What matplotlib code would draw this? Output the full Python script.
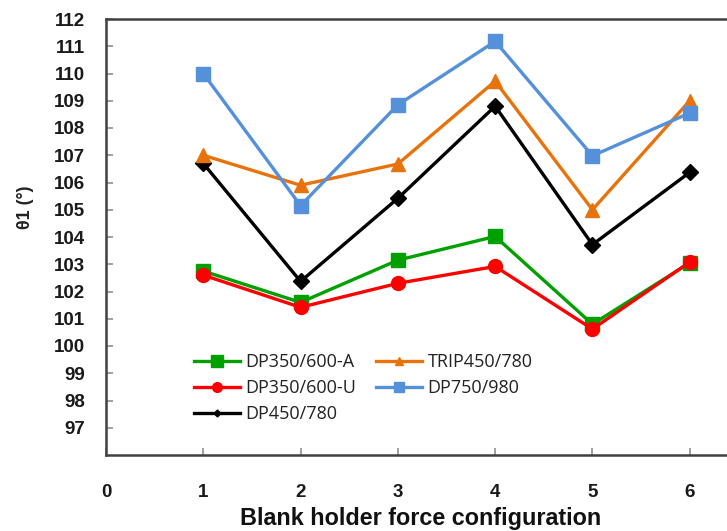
import matplotlib
matplotlib.use("Agg")
import matplotlib.pyplot as plt
from matplotlib.lines import Line2D

configs = [1, 2, 3, 4, 5, 6]
dp350_a = [102.75, 101.6, 103.15, 104.02, 100.8, 103.05]
dp350_u = [102.6, 101.42, 102.3, 102.92, 100.62, 103.08]
dp450 = [106.7, 102.37, 105.42, 108.8, 103.72, 106.37]
trip450 = [107.0, 105.9, 106.68, 109.72, 105.0, 109.0]
dp750 = [110.0, 105.15, 108.85, 111.18, 106.98, 108.55]

labels = ["DP350/600-A", "DP350/600-U", "DP450/780", "TRIP450/780", "DP750/980"]
yticks = list(range(97, 113))
xticks = [0, 1, 2, 3, 4, 5, 6]

c_green = "#00A000"
c_red = "#FF0000"
c_black = "#000000"
c_orange = "#E8730C"
c_blue = "#5590DA"

fig = plt.figure(figsize=(7.27, 5.31), dpi=100)
L, R, T, B = 106, 787, 19, 455
ax = fig.add_axes([L / 727, (531 - B) / 531, (R - L) / 727, (B - T) / 531])

lw = 2.4
ax.plot(configs, dp350_a, color=c_green, lw=lw, marker="s", ms=10, zorder=3)
ax.plot(configs, dp350_u, color=c_red, lw=lw, marker="o", ms=10, zorder=3)
ax.plot(configs, dp450, color=c_black, lw=lw, marker="D", ms=8, zorder=3)
ax.plot(configs, trip450, color=c_orange, lw=lw, marker="^", ms=10, zorder=3)
ax.plot(configs, dp750, color=c_blue, lw=lw, marker="s", ms=10, zorder=3)

ax.set_xlim(0, 7)
ax.set_ylim(96, 112)
ax.set_yticks(yticks)
ax.set_xticks(xticks)

for s in ["left", "top", "bottom", "right"]:
    ax.spines[s].set_color("#404040")
    ax.spines[s].set_linewidth(1.8)

tickfont = dict(family="Liberation Sans", weight="bold", size=13.5)
ax.set_yticklabels([str(v) for v in yticks], fontdict=tickfont, color="#1a1a1a")
ax.set_xticklabels([str(v) for v in xticks], fontdict=tickfont, color="#1a1a1a")
ax.tick_params(axis="y", direction="in", length=5, width=1.2, color="#909090", pad=15)
ax.tick_params(axis="x", direction="in", length=5, width=1.2, color="#909090", pad=21)

fig.text(240 / 727, 1 - 519 / 531, "Blank holder force configuration",
         family="Liberation Sans", weight="bold", size=16.8, va="center", ha="left",
         color="#111111")
fig.text(25 / 727, 1 - 207 / 531, "θ1 (°)", family="Liberation Sans", weight="bold",
         size=13, rotation=90, va="center", ha="center", color="#222222")

handles = [
    Line2D([], [], color=c_green, lw=lw, marker="s", ms=8),
    Line2D([], [], color=c_red, lw=lw, marker="o", ms=7),
    Line2D([], [], color=c_black, lw=lw, marker="D", ms=3.5),
    Line2D([], [], color=c_orange, lw=lw, marker="^", ms=6),
    Line2D([], [], color=c_blue, lw=lw, marker="s", ms=7),
]
leg = fig.legend(handles, labels, ncol=2, frameon=False,
                 loc="upper left", bbox_to_anchor=(194 / 727, 1 - 353 / 531),
                 prop=dict(family="Open Sans", size=13), handlelength=2.55,
                 handletextpad=0.3, columnspacing=1.1, labelspacing=0.45,
                 borderpad=0, borderaxespad=0)
for t in leg.get_texts():
    t.set_color("#222222")

fig.savefig("out.png", dpi=100)
